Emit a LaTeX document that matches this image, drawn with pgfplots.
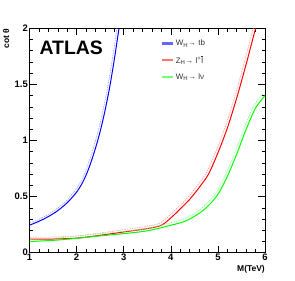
\documentclass[border=0pt]{standalone}
\usepackage{fontspec}
\setmainfont{Liberation Sans}
\usepackage{pgfplots}
\pgfplotsset{compat=1.18}
\begin{document}
\begin{tikzpicture}[x=1bp,y=1bp]
\path[use as bounding box] (0,0) rectangle (295,281);
\begin{axis}[
  at={(29.5bp,28.3bp)}, anchor=south west,
  scale only axis, width=235.5bp, height=224.4bp,
  xmin=1, xmax=6, ymin=0, ymax=2,
  xtick={1,2,3,4,5,6}, ytick={0,0.5,1,1.5,2},
  minor x tick num=4, minor y tick num=4,
  tick align=inside, tick pos=both,
  major tick length=7bp, minor tick length=3.5bp,
  every tick/.style={black, line width=0.5pt},
  axis line style={line width=0.7pt},
  /pgf/number format/assume math mode=true,
  ticklabel style={font=\fontsize{9.5}{11}\selectfont\bfseries},
  xticklabel style={inner sep=1bp},
  yticklabel style={inner sep=1.5bp},
  xlabel={M(TeV)},
  xlabel style={at={(rel axis cs:1,0)}, anchor=north east, inner sep=0pt, yshift=-12.5bp, font=\fontsize{8.5}{10}\selectfont\bfseries},
  ylabel={cot θ},
  ylabel style={at={(axis description cs:-0.085,1)}, anchor=south east, inner sep=0pt, font=\fontsize{8.5}{10}\selectfont\bfseries},
  legend style={at={(rel axis cs:0.558,0.958)}, anchor=north west, draw=none, fill=none,
     font=\fontsize{8}{9.6}\selectfont, text=black!80, inner sep=0pt, row sep=4.6bp,
     cells={anchor=west}},
  legend image code/.code={\draw[#1] (0bp,0bp) -- (10.5bp,0bp);},
]
% main curves
\addplot[blue, line width=1pt, smooth, legend image post style={draw=blue!60, line width=2.2pt}] coordinates {
(1.0,0.245) (1.2,0.28) (1.4,0.322) (1.6,0.375) (1.8,0.445) (1.9,0.49) (2.0,0.54) (2.1,0.605) (2.2,0.69) (2.3,0.80) (2.4,0.93) (2.5,1.08) (2.6,1.26) (2.7,1.47) (2.8,1.72) (2.9,2.0)};
\addlegendentry{W\textsubscript{H}→ tb}
\addplot[red, line width=1pt, smooth, legend image post style={draw=red!55, line width=2.2pt}] coordinates {
(1.0,0.12) (1.5,0.122) (2.0,0.13) (2.5,0.155) (3.0,0.185) (3.5,0.215) (3.8,0.245) (4.0,0.31) (4.2,0.39) (4.4,0.475) (4.6,0.58) (4.8,0.70) (5.0,0.89) (5.2,1.11) (5.4,1.38) (5.6,1.68) (5.7,1.84) (5.8,2.0)};
\addlegendentry{Z\textsubscript{H}→ l\textsuperscript{+}$\overline{\mbox{l}}$}
\addplot[green, line width=1pt, smooth, legend image post style={draw=green!55, line width=2.2pt}] coordinates {
(1.0,0.10) (1.5,0.11) (2.0,0.128) (2.5,0.15) (3.0,0.17) (3.5,0.195) (4.0,0.245) (4.3,0.28) (4.6,0.35) (4.8,0.42) (5.0,0.52) (5.2,0.68) (5.4,0.88) (5.6,1.10) (5.8,1.29) (6.0,1.40)};
\addlegendentry{W\textsubscript{H}→ lν}
% hatched error bands (approximated by thin dashed lines)
\addplot[forget plot, blue!45, line width=0.5pt, dash pattern=on 1.5pt off 1pt, xshift=-1.8bp, yshift=1.2bp, smooth] coordinates {
(1.0,0.245) (1.2,0.28) (1.4,0.322) (1.6,0.375) (1.8,0.445) (1.9,0.49) (2.0,0.54) (2.1,0.605) (2.2,0.69) (2.3,0.80) (2.4,0.93) (2.5,1.08) (2.6,1.26) (2.7,1.47) (2.8,1.72) (2.9,2.0)};
\addplot[forget plot, red!45, line width=0.5pt, dash pattern=on 1.5pt off 1pt, xshift=-1.8bp, yshift=2bp, smooth] coordinates {
(1.0,0.12) (1.5,0.122) (2.0,0.13) (2.5,0.155) (3.0,0.185) (3.5,0.215) (3.8,0.245) (4.0,0.31) (4.2,0.39) (4.4,0.475) (4.6,0.58) (4.8,0.70) (5.0,0.89) (5.2,1.11) (5.4,1.38) (5.6,1.68) (5.7,1.84) (5.8,2.0)};
\addplot[forget plot, green!55, line width=0.5pt, dash pattern=on 1.5pt off 1pt, xshift=-1.8bp, yshift=2bp, smooth] coordinates {
(1.0,0.10) (1.5,0.11) (2.0,0.128) (2.5,0.15) (3.0,0.17) (3.5,0.195) (4.0,0.245) (4.3,0.28) (4.6,0.35) (4.8,0.42) (5.0,0.52) (5.2,0.68) (5.4,0.88) (5.6,1.10) (5.8,1.29) (6.0,1.40)};
\node[anchor=west, inner sep=0pt, font=\fontsize{19.5}{21}\selectfont\bfseries] at (rel axis cs:0.042,0.911) {ATLAS};
\end{axis}
\end{tikzpicture}
\end{document}
